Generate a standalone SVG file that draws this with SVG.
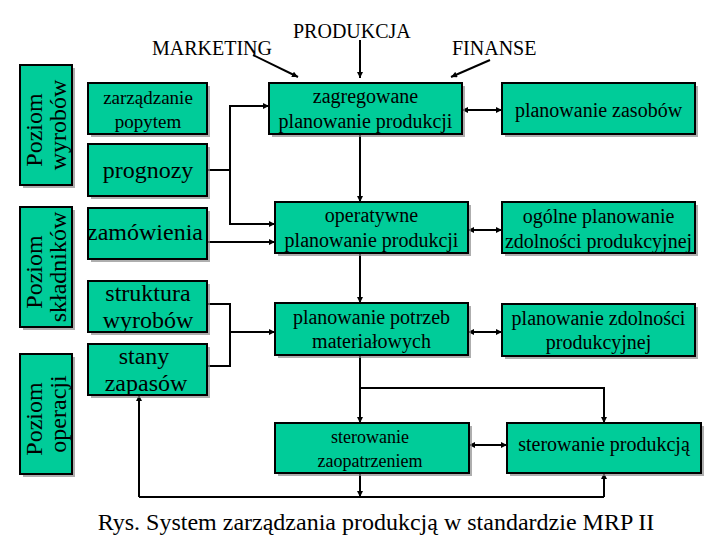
<svg xmlns="http://www.w3.org/2000/svg" width="720" height="540" viewBox="0 0 720 540">
<style>
.box{fill:#00CC99;stroke:#000;stroke-width:2}
.sh{fill:#8c8c8c;opacity:0.7}
text{font-family:"Liberation Serif","Times New Roman",serif;fill:#000}
.t24{font-size:24px}
.t20{font-size:20px}
.t19{font-size:19px}
.t18{font-size:18px}
.c{text-anchor:middle}
.ln{fill:none;stroke:#000;stroke-width:2}
.a{marker-end:url(#ah)}
.b{marker-start:url(#ahs);marker-end:url(#ah)}
</style>
<defs>
<marker id="ah" viewBox="0 0 8 8" refX="8" refY="4" markerWidth="3.2" markerHeight="3" orient="auto" markerUnits="strokeWidth">
<path d="M0,0 L8,4 L0,8 z" fill="#000"/>
</marker>
<marker id="ahs" viewBox="0 0 8 8" refX="0" refY="4" markerWidth="3.2" markerHeight="3" orient="auto" markerUnits="strokeWidth">
<path d="M8,0 L0,4 L8,8 z" fill="#000"/>
</marker>
</defs>

<rect width="720" height="540" fill="#fff"/>

<!-- headers -->
<g id="labels">
<text class="t20" x="152" y="55">MARKETING</text>
<text class="t20" x="293" y="38">PRODUKCJA</text>
<text class="t20" x="452" y="55">FINANSE</text>
</g>

<!-- level labels -->
<g id="level-wyrobow">
<rect class="sh" x="23" y="68" width="52" height="120"/>
<rect class="box" x="20" y="65" width="52" height="120"/>
<text class="t24 c" transform="translate(42,130) rotate(-90)">Poziom</text>
<text class="t24 c" transform="translate(66,125) rotate(-90)">wyrobów</text>
</g>
<g id="level-skladnikow">
<rect class="sh" x="23" y="210" width="52" height="120"/>
<rect class="box" x="20" y="207" width="52" height="120"/>
<text class="t24 c" transform="translate(42,272) rotate(-90)">Poziom</text>
<text class="t24 c" transform="translate(66,267) rotate(-90)">składników</text>
</g>
<g id="level-operacji">
<rect class="sh" x="23" y="357" width="52" height="120"/>
<rect class="box" x="20" y="354" width="52" height="120"/>
<text class="t24 c" transform="translate(42,419) rotate(-90)">Poziom</text>
<text class="t24 c" transform="translate(66,414) rotate(-90)">operacji</text>
</g>

<!-- connectors -->
<g id="connectors">
<path class="ln a" d="M253,55 L298,77"/>
<path class="ln a" d="M360,40 V78"/>
<path class="ln a" d="M490,60 L451,77"/>
<path class="ln" d="M207,170 H230"/>
<path class="ln a" d="M230,170 V106 H269"/>
<path class="ln a" d="M230,170 V224 H275"/>
<path class="ln a" d="M207,242 H275"/>
<path class="ln" d="M207,304 H230 V366 H207"/>
<path class="ln a" d="M230,332 H275"/>
<path class="ln a" d="M360,134 V202"/>
<path class="ln a" d="M360,253 V303"/>
<path class="ln a" d="M360,355 V423"/>
<path class="ln a" d="M360,388 H604 V423"/>
<path class="ln b" d="M462,110 H502"/>
<path class="ln b" d="M468,230 H502"/>
<path class="ln b" d="M468,332 H502"/>
<path class="ln b" d="M469,445 H507"/>
<path class="ln a" d="M360,473 V497"/>
<path class="ln" d="M139,497 H604"/>
<path class="ln a" d="M139,497 V395"/>
<path class="ln a" d="M604,497 V473"/>
</g>

<!-- left nodes -->
<g id="zarzadzanie-popytem">
<rect class="sh" x="91" y="86" width="119" height="51"/>
<rect class="box" x="88" y="83" width="119" height="51"/>
<text class="t19 c" x="148" y="104">zarządzanie</text>
<text class="t19 c" x="148" y="128">popytem</text>
</g>
<g id="prognozy">
<rect class="sh" x="91" y="147" width="119" height="52"/>
<rect class="box" x="88" y="144" width="119" height="52"/>
<text class="t24 c" x="148" y="178">prognozy</text>
</g>
<g id="zamowienia">
<rect class="sh" x="91" y="211" width="119" height="51"/>
<rect class="box" x="88" y="208" width="119" height="51"/>
<text class="t24 c" x="145" y="240">zamówienia</text>
</g>
<g id="struktura-wyrobow">
<rect class="sh" x="91" y="284" width="119" height="51"/>
<rect class="box" x="88" y="281" width="119" height="51"/>
<text class="t24 c" x="148" y="301">struktura</text>
<text class="t24 c" x="148" y="328">wyrobów</text>
</g>
<g id="stany-zapasow">
<rect class="sh" x="91" y="347" width="119" height="51"/>
<rect class="box" x="88" y="344" width="119" height="51"/>
<text class="t24 c" x="144" y="364">stany</text>
<text class="t24 c" x="146" y="391">zapasów</text>
</g>

<!-- middle nodes -->
<g id="zagregowane">
<rect class="sh" x="272" y="86" width="193" height="51"/>
<rect class="box" x="269" y="83" width="193" height="51"/>
<text class="t20 c" x="365.5" y="103">zagregowane</text>
<text class="t20 c" x="365.5" y="128">planowanie produkcji</text>
</g>
<g id="operatywne">
<rect class="sh" x="278" y="205" width="193" height="51"/>
<rect class="box" x="275" y="202" width="193" height="51"/>
<text class="t20 c" x="371.5" y="222">operatywne</text>
<text class="t20 c" x="371.5" y="247">planowanie produkcji</text>
</g>
<g id="planowanie-potrzeb">
<rect class="sh" x="278" y="306" width="193" height="52"/>
<rect class="box" x="275" y="303" width="193" height="52"/>
<text class="t20 c" x="371.5" y="324">planowanie potrzeb</text>
<text class="t20 c" x="371.5" y="348">materiałowych</text>
</g>
<g id="sterowanie-zaopatrzeniem">
<rect class="sh" x="278" y="426" width="194" height="50"/>
<rect class="box" x="275" y="423" width="194" height="50"/>
<text class="t18 c" x="370" y="443">sterowanie</text>
<text class="t18 c" x="370" y="467">zaopatrzeniem</text>
</g>

<!-- right nodes -->
<g id="planowanie-zasobow">
<rect class="sh" x="505" y="86" width="193" height="51"/>
<rect class="box" x="502" y="83" width="193" height="51"/>
<text class="t20 c" x="598.5" y="117">planowanie zasobów</text>
</g>
<g id="ogolne-planowanie">
<rect class="sh" x="505" y="205" width="193" height="51"/>
<rect class="box" x="502" y="202" width="193" height="51"/>
<text class="t20 c" x="598.5" y="223">ogólne planowanie</text>
<text class="t20 c" x="598.5" y="248">zdolności produkcyjnej</text>
</g>
<g id="planowanie-zdolnosci">
<rect class="sh" x="505" y="307" width="193" height="52"/>
<rect class="box" x="502" y="304" width="193" height="52"/>
<text class="t20 c" x="598.5" y="325">planowanie zdolności</text>
<text class="t20 c" x="598.5" y="349">produkcyjnej</text>
</g>
<g id="sterowanie-produkcja">
<rect class="sh" x="510" y="426" width="194" height="50"/>
<rect class="box" x="507" y="423" width="194" height="50"/>
<text class="t20 c" x="604" y="451">sterowanie produkcją</text>
</g>

<text class="t24 c" x="376" y="530">Rys. System zarządzania produkcją w standardzie MRP II</text>
</svg>
